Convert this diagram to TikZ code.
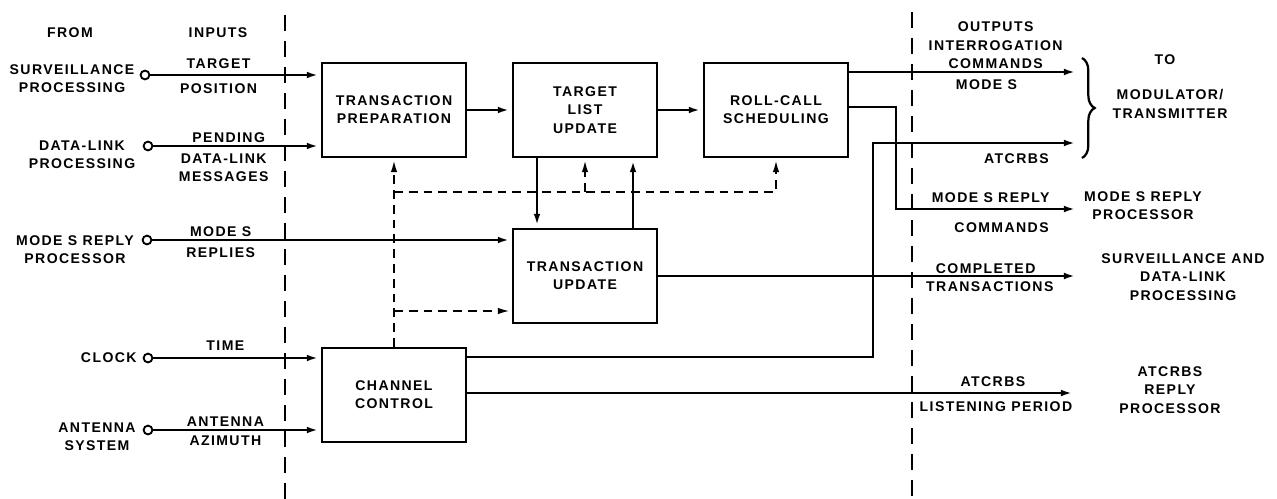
\documentclass[tikz,border=0pt]{standalone}
\usepackage{fontspec}
\setmainfont{Liberation Sans}[LetterSpace=10]
\usetikzlibrary{arrows.meta,decorations.pathreplacing}

\begin{document}
\begin{tikzpicture}[x=0.025cm, y=-0.025cm, line cap=butt, line join=miter, >={Latex[length=10pt,width=4.5pt]},
		every node/.style={font=\fontsize{10}{13}\selectfont\bfseries, align=center, inner sep=1.5pt},
		blk/.style={draw, line width=1.6pt, minimum width=3.6cm, minimum height=2.35cm},
		src/.style={draw, circle, line width=1.3pt, minimum size=0.22cm, inner sep=0pt},
		sig/.style={line width=2pt},
		sep/.style={line width=1.8pt, dash pattern=on 0.4cm off 0.25cm},
		ctl/.style={line width=1.8pt, dash pattern=on 0.22cm off 0.15cm}]
	\useasboundingbox (0,0) rectangle (1277,499);
	\draw[sep] (285,15) -- (285,499);
	\draw[sep] (912,12) -- (912,499);
	\node (from) at (70,33) {FROM};
	\node (inp) at (218,33) {INPUTS};
	\node[src] (sp) at (145,75) {};
	\node[src] (dp) at (148,146) {};
	\node[src] (mr) at (147,240) {};
	\node[src] (clk) at (148,358) {};
	\node[src] (ant) at (148,430) {};
	\node (spl) at (72,79) {SURVEILLANCE\\PROCESSING};
	\node (dpl) at (82,155) {DATA-LINK\\PROCESSING};
	\node (mrl) at (75,250) {MODE S REPLY\\PROCESSOR};
	\node[anchor=east] (clkl) at (139,358) {CLOCK};
	\node (antl) at (97,437) {ANTENNA\\SYSTEM};
	\node[blk] (tp) at (394,110) {TRANSACTION\\PREPARATION};
	\node[blk] (tlu) at (585,110) {TARGET\\LIST\\UPDATE};
	\node[blk] (rc) at (776,110) {ROLL-CALL\\SCHEDULING};
	\node[blk] (tu) at (585,276) {TRANSACTION\\UPDATE};
	\node[blk] (cc) at (394,395) {CHANNEL\\CONTROL};
	\draw[sig,->] (sp) -- node[above=2pt,pos=0.4]{TARGET} node[below=4pt,pos=0.4]{POSITION} (sp -| tp.west);
	\draw[sig,->] (dp) -- node[above,pos=0.45]{PENDING} node[below=3pt,pos=0.42]{DATA-LINK\\MESSAGES} (dp -| tp.west);
	\draw[sig,->] (mr) -- node[above,pos=0.19]{MODE S} node[below=3pt,pos=0.19]{REPLIES} (mr -| tu.west);
	\draw[sig,->] (clk) -- node[above=3pt,pos=0.43]{TIME} (clk -| cc.west);
	\draw[sig,->] (ant) -- node[above,pos=0.43]{ANTENNA} node[below=1.5pt,pos=0.43]{AZIMUTH} (ant -| cc.west);
	\draw[sig,->] (tp) -- (tlu);
	\draw[sig,->] (tlu) -- (rc);
	\draw[sig,->] ([xshift=-1.2cm]tlu.south) -- ([xshift=-1.2cm]tu.north);
	\draw[sig,<-] ([xshift=1.2cm]tlu.south) -- ([xshift=1.2cm]tu.north);
	\coordinate (d1) at (394,192);
	\coordinate (d2) at (394,311);
	\draw[ctl,->] (cc.north) -- (tp.south);
	\draw[ctl,->] (d1) -| (rc.south);
	\draw[ctl,->] (d1 -| tlu.south) -- (tlu.south);
	\draw[ctl,->] (d2) -- (d2 -| tu.west);
	\coordinate (o1) at (1078,72);
	\coordinate (o2) at (1078,209);
	\coordinate (o3) at (1078,143);
	\coordinate (o4) at (1078,276);
	\coordinate (o5) at (1075,393);
	\coordinate (k2) at (896,107);
	\coordinate (k3) at (873,357);
	\draw[sig,->] (o1 -| rc.east) -- node[above,pos=0.64]{OUTPUTS\\INTERROGATION\\COMMANDS} node[below=3pt,pos=0.6]{MODE S} (o1);
	\draw[sig,->] (k2 -| rc.east) -- (k2) -- (k2 |- o2) -- node[above=2pt,pos=0.52]{MODE S REPLY} node[below=7pt,pos=0.58]{COMMANDS} (o2);
	\draw[sig,->] (k3 -| cc.east) -- (k3) -- (k3 |- o3) -- node[below=5pt,pos=0.7]{ATCRBS} (o3);
	\draw[sig,->] (tu.east) -- node[above=-1pt,pos=0.78]{COMPLETED} node[below=1.5pt,pos=0.79]{TRANSACTIONS} (o4);
	\draw[sig,->] (o5 -| cc.east) -- node[above=2pt,pos=0.865]{ATCRBS} node[below=4pt,pos=0.87]{LISTENING PERIOD} (o5);
	\draw[line width=1.6pt, decorate, decoration={brace, amplitude=9pt}] (1082,58) -- (1082,158);
	\node (to) at (1165,60) {TO};
	\node (mod) at (1170,104) {MODULATOR/\\TRANSMITTER};
	\node (msrp) at (1143,206) {MODE S REPLY\\PROCESSOR};
	\node (sdl) at (1183,277) {SURVEILLANCE AND\\DATA-LINK\\PROCESSING};
	\node (arp) at (1170,390) {ATCRBS\\REPLY\\PROCESSOR};
\end{tikzpicture}
\end{document}
